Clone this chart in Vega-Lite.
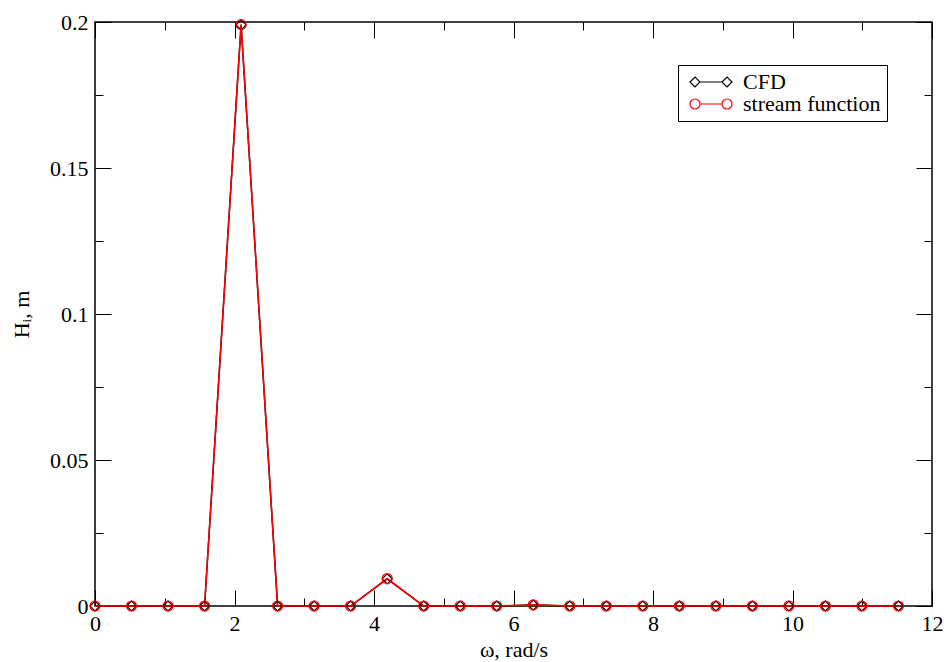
{
  "$schema": "https://vega.github.io/schema/vega-lite/v6.json",
  "width": 837,
  "height": 584,
  "autosize": "none",
  "padding": {"left": 95, "top": 22, "right": 12, "bottom": 56},
  "background": "white",
  "config": {
    "font": "Liberation Serif",
    "view": {"stroke": "black", "strokeWidth": 1.5},
    "axis": {
      "domain": false,
      "grid": false,
      "tickColor": "black",
      "tickWidth": 1,
      "labelColor": "black",
      "titleColor": "black",
      "labelFont": "Liberation Serif",
      "titleFont": "Liberation Serif",
      "labelFontSize": 22,
      "titleFontSize": 22,
      "titleFontWeight": "normal"
    }
  },
  "data": {
    "values": [
      {"omega": 0, "H": 0, "series": "CFD"},
      {"omega": 0.5236, "H": 0, "series": "CFD"},
      {"omega": 1.0472, "H": 0, "series": "CFD"},
      {"omega": 1.5708, "H": 0, "series": "CFD"},
      {"omega": 2.0944, "H": 0.199, "series": "CFD"},
      {"omega": 2.618, "H": 0, "series": "CFD"},
      {"omega": 3.1416, "H": 0, "series": "CFD"},
      {"omega": 3.6652, "H": 0, "series": "CFD"},
      {"omega": 4.1888, "H": 0.0093, "series": "CFD"},
      {"omega": 4.7124, "H": 0, "series": "CFD"},
      {"omega": 5.236, "H": 0, "series": "CFD"},
      {"omega": 5.7596, "H": 0, "series": "CFD"},
      {"omega": 6.2832, "H": 0.0003, "series": "CFD"},
      {"omega": 6.8068, "H": 0, "series": "CFD"},
      {"omega": 7.3304, "H": 0, "series": "CFD"},
      {"omega": 7.854, "H": 0, "series": "CFD"},
      {"omega": 8.3776, "H": 0, "series": "CFD"},
      {"omega": 8.9012, "H": 0, "series": "CFD"},
      {"omega": 9.4248, "H": 0, "series": "CFD"},
      {"omega": 9.9484, "H": 0, "series": "CFD"},
      {"omega": 10.472, "H": 0, "series": "CFD"},
      {"omega": 10.9956, "H": 0, "series": "CFD"},
      {"omega": 11.5192, "H": 0, "series": "CFD"},
      {"omega": 0, "H": 0, "series": "stream function"},
      {"omega": 0.5236, "H": 0, "series": "stream function"},
      {"omega": 1.0472, "H": 0, "series": "stream function"},
      {"omega": 1.5708, "H": 0, "series": "stream function"},
      {"omega": 2.0944, "H": 0.1991, "series": "stream function"},
      {"omega": 2.618, "H": 0, "series": "stream function"},
      {"omega": 3.1416, "H": 0, "series": "stream function"},
      {"omega": 3.6652, "H": 0, "series": "stream function"},
      {"omega": 4.1888, "H": 0.0094, "series": "stream function"},
      {"omega": 4.7124, "H": 0, "series": "stream function"},
      {"omega": 5.236, "H": 0, "series": "stream function"},
      {"omega": 5.7596, "H": 0, "series": "stream function"},
      {"omega": 6.2832, "H": 0.0004, "series": "stream function"},
      {"omega": 6.8068, "H": 0, "series": "stream function"},
      {"omega": 7.3304, "H": 0, "series": "stream function"},
      {"omega": 7.854, "H": 0, "series": "stream function"},
      {"omega": 8.3776, "H": 0, "series": "stream function"},
      {"omega": 8.9012, "H": 0, "series": "stream function"},
      {"omega": 9.4248, "H": 0, "series": "stream function"},
      {"omega": 9.9484, "H": 0, "series": "stream function"},
      {"omega": 10.472, "H": 0, "series": "stream function"},
      {"omega": 10.9956, "H": 0, "series": "stream function"},
      {"omega": 11.5192, "H": 0, "series": "stream function"}
    ]
  },
  "layer": [
    {
      "transform": [{"filter": "datum.series === 'CFD'"}],
      "mark": {"type": "line", "strokeWidth": 1.5, "color": "black"},
      "encoding": {
        "x": {"field": "omega", "type": "quantitative", "scale": {"domain": [0, 12], "nice": false, "zero": false},
          "axis": {"orient": "bottom", "values": [0, 2, 4, 6, 8, 10, 12], "tickSize": -16, "labelPadding": 23, "title": "ω, rad/s", "titlePadding": 5, "labelFlush": false}},
        "y": {"field": "H", "type": "quantitative", "scale": {"domain": [0, 0.2], "nice": false, "zero": false},
          "axis": {"orient": "left", "values": [0, 0.05, 0.1, 0.15, 0.2], "tickSize": -16, "labelPadding": 23, "labelExpr": "'' + datum.value", "title": "Hᵢ, m", "titlePadding": 16, "labelFlush": false}}
      }
    },
    {
      "transform": [{"filter": "datum.series === 'stream function'"}],
      "mark": {"type": "line", "strokeWidth": 1.5, "color": "red"},
      "encoding": {
        "x": {"field": "omega", "type": "quantitative", "scale": {"domain": [0, 12], "nice": false, "zero": false},
          "axis": {"orient": "top", "values": [0, 2, 4, 6, 8, 10, 12], "tickSize": -16, "labels": false, "title": null}},
        "y": {"field": "H", "type": "quantitative", "scale": {"domain": [0, 0.2], "nice": false, "zero": false},
          "axis": {"orient": "right", "values": [0, 0.05, 0.1, 0.15, 0.2], "tickSize": -16, "labels": false, "title": null}}
      }
    },
    {
      "transform": [{"filter": "datum.series === 'CFD'"}],
      "mark": {"type": "point", "shape": "diamond", "filled": false, "size": 100, "strokeWidth": 1.2, "color": "black", "opacity": 1},
      "encoding": {
        "x": {"field": "omega", "type": "quantitative", "scale": {"domain": [0, 12], "nice": false, "zero": false},
          "axis": {"orient": "bottom", "values": [1, 3, 5, 7, 9, 11], "tickSize": -8, "labels": false, "title": null}},
        "y": {"field": "H", "type": "quantitative", "scale": {"domain": [0, 0.2], "nice": false, "zero": false},
          "axis": {"orient": "left", "values": [0.025, 0.075, 0.125, 0.175], "tickSize": -8, "labels": false, "title": null}}
      }
    },
    {
      "transform": [{"filter": "datum.series === 'stream function'"}],
      "mark": {"type": "point", "shape": "circle", "filled": false, "size": 100, "strokeWidth": 1.2, "color": "red", "opacity": 1},
      "encoding": {
        "x": {"field": "omega", "type": "quantitative", "scale": {"domain": [0, 12], "nice": false, "zero": false},
          "axis": {"orient": "top", "values": [1, 3, 5, 7, 9, 11], "tickSize": -8, "labels": false, "title": null}},
        "y": {"field": "H", "type": "quantitative", "scale": {"domain": [0, 0.2], "nice": false, "zero": false},
          "axis": {"orient": "right", "values": [0.025, 0.075, 0.125, 0.175], "tickSize": -8, "labels": false, "title": null}}
      }
    },
    {
      "mark": {"type": "point", "filled": false, "opacity": 0},
      "encoding": {
        "x": {"field": "omega", "type": "quantitative", "scale": {"domain": [0, 12], "nice": false, "zero": false}, "axis": null},
        "y": {"field": "H", "type": "quantitative", "scale": {"domain": [0, 0.2], "nice": false, "zero": false}, "axis": null},
        "color": {"field": "series", "type": "nominal",
          "scale": {"domain": ["CFD", "stream function"], "range": ["black", "red"]},
          "legend": {
            "title": null, "orient": "none", "legendX": 583, "legendY": 43,
            "strokeColor": "black", "padding": 6, "fillColor": "white",
            "labelFont": "Liberation Serif", "labelFontSize": 22, "labelColor": "black",
            "symbolSize": 400, "labelOffset": 37, "rowPadding": 0, "labelLimit": 300,
            "symbolFillColor": "transparent", "symbolStrokeWidth": 1.2, "symbolOpacity": 1
          }},
        "shape": {"field": "series", "type": "nominal",
          "scale": {"domain": ["CFD", "stream function"], "range": [
            "M-0.5,0L0,-0.5L0.5,0L0,0.5Z M0.5,0L2.7,0 M2.7,0L3.2,-0.5L3.7,0L3.2,0.5Z",
            "M-0.5,0A0.5,0.5 0 1,0 0.5,0A0.5,0.5 0 1,0 -0.5,0Z M0.5,0L2.7,0 M2.7,0A0.5,0.5 0 1,0 3.7,0A0.5,0.5 0 1,0 2.7,0Z"
          ]},
          "legend": {
            "title": null, "orient": "none", "legendX": 583, "legendY": 43,
            "strokeColor": "black", "padding": 6, "fillColor": "white",
            "labelFont": "Liberation Serif", "labelFontSize": 22, "labelColor": "black",
            "symbolSize": 400, "labelOffset": 37, "rowPadding": 0, "labelLimit": 300,
            "symbolFillColor": "transparent", "symbolStrokeWidth": 1.2, "symbolOpacity": 1
          }}
      }
    }
  ],
  "resolve": {
    "axis": {"x": "independent", "y": "independent"}
  }
}
